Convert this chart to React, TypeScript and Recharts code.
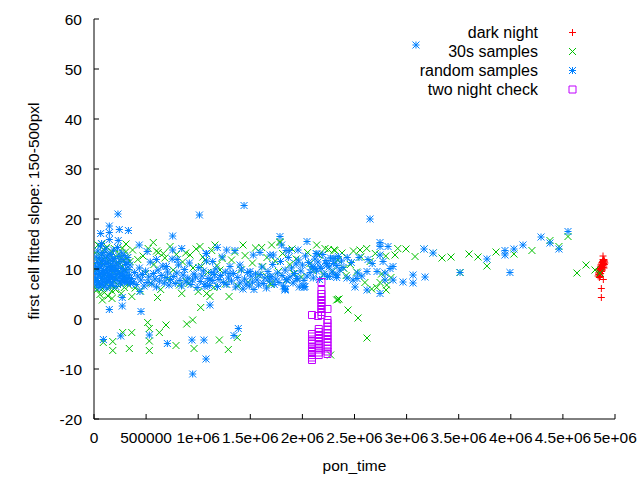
import React from 'react';
import { ScatterChart, Scatter, XAxis, YAxis, Legend } from 'recharts';

const FONT = '"Liberation Sans", Arial, sans-serif';
const TICK_FS = 15.5;
const TITLE_FS = 15.5;
const LEGEND_FS = 16;

const xTicks = [0, 500000, 1000000, 1500000, 2000000, 2500000, 3000000, 3500000, 4000000, 4500000, 5000000];
const xTickLabels = ['0', '500000', '1e+06', '1.5e+06', '2e+06', '2.5e+06', '3e+06', '3.5e+06', '4e+06', '4.5e+06', '5e+06'];
const yTicks = [-20, -10, 0, 10, 20, 30, 40, 50, 60];
const yTickLabels = ['-20', '-10', '0', '10', '20', '30', '40', '50', '60'];

const seriesNames = ['dark night', '30s samples', 'random samples', 'two night check'];
const seriesColors = ['#ff0000', '#00c000', '#0080ff', '#c000ff'];
const seriesMarkers = ['plus', 'cross', 'star', 'square'];

// points: [pon_time in thousands, slope]
const darkNight: [number, number][] = [
  [4838, 8.6], [4842, 9.2], [4845, 8.9], [4848, 9.8], [4850, 9.4], [4852, 10.1], [4855, 8.8], [4857, 9.6],
  [4860, 10.4], [4862, 9.1], [4864, 10.8], [4866, 9.9], [4868, 10.5], [4870, 11.0], [4872, 9.5], [4874, 10.2],
  [4876, 11.3], [4878, 10.7], [4880, 9.8], [4882, 11.5], [4884, 10.9], [4886, 10.3], [4888, 11.7], [4890, 11.1],
  [4892, 10.6], [4894, 11.9], [4896, 11.4], [4898, 10.9], [4900, 11.6], [4903, 11.2], [4846, 10.0], [4858, 8.5],
  [4871, 10.0], [4885, 11.9], [4895, 10.2], [4850, 8.3], [4885, 12.6], [4888, 7.9], [4869, 6.1], [4869, 4.3],
];

const samples30s: [number, number][] = [
  [80, 3.8], [173, 4.1], [363, 4.5], [610, 4.3], [842, 5.1], [1024, 2.3], [1113, 4.5], [1296, 4.5],
  [515, -0.7], [531, -1.9], [531, -4.4], [531, -6.3], [691, -1.2], [627, -2.7], [890, -1.0], [947, -0.2],
  [275, -2.7], [362, -2.7], [180, -4.5], [89, -4.7], [180, -6.3], [339, -5.9], [787, -5.3], [960, -5.9],
  [1203, -4.2], [1289, -6.1], [1375, -3.7], [2271, -7.2], [2339, 3.9], [2351, 4.0], [2438, 1.8], [2534, 0.2],
  [2620, -3.8],
  [2915, 14.1], [2994, 14.0], [3081, 12.5], [3167, 14.0], [3254, 13.2], [3340, 12.2], [3426, 12.4], [3513, 9.3],
  [3599, 13.0], [3685, 12.4], [3771, 10.6], [3858, 13.4], [4030, 13.0], [4203, 13.7], [4376, 15.7], [4462, 14.5],
  [4549, 16.5], [4635, 9.2], [4722, 10.8], [4808, 9.8], [4856, 9.2], [2889, 12.8],
  [1161, 14.8], [1430, 14.8], [1609, 14.3], [1705, 14.8], [1785, 15.5], [2137, 14.8], [2217, 14.1], [2303, 13.8],
  [1030, 10.5], [1209, 9.8], [1081, 5.1], [2329, 3.8], [1657, 8.5], [1913, 9.1], [2073, 11.1], [1785, 15.3],
  [2313, 13.7], [2553, 13.8], [2617, 14.1], [1689, 7.1], [2713, 6.3], [2809, 6.8], [2803, 5.8], [2665, 6.0],
  [2745, 7.3], [2399, 10.1], [569, 15.3], [307, 15.0], [665, 13.1], [617, 13.3], [921, 12.8], [1017, 14.5],
  [890, 7.5], [1065, 11.8],
  [5, 6.4], [14, 13.2], [20, 9.9], [27, 5.8], [33, 11.6], [39, 14.8], [45, 7.3], [51, 10.7], [57, 4.9], [63, 12.7],
  [69, 8.5], [75, 15.0], [81, 6.1], [87, 11.0], [93, 13.9], [99, 5.3], [105, 9.0], [111, 12.3], [117, 7.0], [123, 14.4],
  [129, 10.1], [135, 4.6], [141, 8.1], [147, 12.9], [153, 6.5], [159, 10.9], [165, 13.5], [171, 5.6], [177, 9.4],
  [183, 11.9], [189, 7.6], [195, 14.1], [201, 10.3], [207, 5.9], [213, 12.5], [219, 8.8], [225, 6.9], [231, 11.3],
  [237, 13.0], [243, 9.6], [249, 7.4], [255, 12.0], [261, 5.1], [267, 10.6], [273, 14.2], [279, 8.2], [285, 11.7],
  [291, 6.3], [297, 9.8], [303, 13.4], [309, 7.9], [318, 12.2], [327, 10.4], [336, 6.7], [345, 11.5],
  [370, 13.8], [395, 6.2], [420, 11.9], [445, 5.6], [470, 12.6], [495, 9.1], [520, 14.1], [545, 7.2], [575, 10.9],
  [600, 13.6], [640, 5.9], [680, 12.2], [705, 8.0], [730, 14.5], [760, 9.8], [790, 12.9], [820, 6.8], [850, 11.4],
  [880, 13.2], [910, 7.1], [950, 10.2], [980, 14.0], [1000, 5.5], [1045, 12.4], [1090, 9.3], [1130, 13.7],
  [1150, 6.3], [1180, 10.7], [1230, 12.1], [1260, 7.0], [1320, 11.8], [1350, 13.4], [1380, 6.6], [1410, 9.9],
  [1450, 12.7], [1480, 7.4], [1520, 11.2], [1550, 14.2], [1580, 8.8], [1620, 10.5], [1660, 12.3], [1700, 6.9],
  [1740, 11.6], [1770, 9.5], [1810, 13.1], [1850, 7.8], [1880, 10.9], [1900, 14.0], [1940, 12.0], [1990, 8.4],
  [2050, 13.3], [2100, 9.7], [2160, 12.8], [2200, 8.9], [2250, 13.9], [2290, 9.6], [2340, 11.8], [2380, 13.2],
  [2420, 8.7], [2460, 10.9], [2490, 13.6], [2520, 9.4], [2560, 12.4], [2600, 7.3], [2650, 11.5], [2700, 13.1],
  [2760, 9.0], [2800, 12.6], [2850, 8.3],
];

const randomSamples: [number, number][] = [
  [8, 7.4], [12, 9.1], [15, 10.6], [18, 8.2], [22, 12.4], [25, 6.8], [28, 9.8], [31, 11.3], [34, 7.7], [37, 13.6],
  [40, 8.9], [43, 10.1], [46, 6.3], [49, 12.0], [52, 9.4], [55, 7.1], [58, 11.0], [61, 14.6], [64, 8.4], [67, 10.4],
  [70, 6.9], [73, 12.8], [76, 9.0], [79, 7.6], [82, 11.7], [85, 8.1], [88, 13.3], [91, 9.7], [94, 6.6], [97, 10.9],
  [100, 8.6], [103, 12.2], [106, 7.3], [109, 9.3], [112, 11.4], [115, 14.0], [118, 8.0], [121, 10.0], [124, 6.2],
  [127, 12.6], [130, 9.2], [133, 7.8], [136, 11.1], [139, 8.7], [142, 10.5], [145, 13.0], [148, 7.5], [151, 9.6],
  [154, 11.8], [157, 8.3], [160, 6.7], [163, 10.3], [166, 12.9], [169, 8.8], [172, 9.9], [175, 7.2], [178, 11.6],
  [181, 8.5], [184, 10.7], [187, 13.8], [190, 7.9], [194, 9.5], [198, 12.1], [202, 8.2], [206, 10.2], [210, 6.5],
  [214, 11.2], [218, 8.9], [222, 9.7], [226, 14.3], [230, 7.7], [234, 10.6], [238, 12.5], [242, 8.4], [246, 9.1],
  [250, 11.5], [254, 7.0], [258, 8.6], [262, 10.1], [266, 13.2], [270, 7.6], [274, 9.0], [278, 11.9], [282, 8.1],
  [286, 9.8], [290, 12.7], [294, 7.3], [298, 8.7], [302, 10.9], [306, 7.9], [310, 9.4], [315, 11.3], [320, 8.3],
  [325, 12.3], [330, 7.5], [335, 9.9], [340, 8.8], [345, 10.8], [350, 7.1],
  [360, 8.1], [375, 7.4], [390, 9.3], [405, 6.9], [420, 8.6], [435, 10.2], [450, 7.8], [465, 8.9], [480, 6.6],
  [495, 9.6], [510, 7.3], [525, 8.4], [540, 11.4], [555, 7.0], [570, 9.1], [585, 8.0], [600, 6.4], [615, 9.8],
  [630, 7.6], [645, 8.7], [660, 10.6], [675, 7.2], [690, 8.3], [705, 9.4], [720, 6.8], [735, 7.9], [750, 12.0],
  [765, 8.5], [780, 7.1], [795, 9.2], [810, 10.8], [825, 7.7], [840, 6.6], [855, 8.8], [870, 9.9], [885, 7.4],
  [900, 8.2], [915, 11.2], [930, 6.9], [945, 7.8], [960, 9.0], [975, 8.4], [990, 6.3], [1005, 10.3], [1020, 7.5],
  [1035, 8.6], [1050, 9.6], [1065, 7.0], [1080, 11.6], [1095, 8.1], [1110, 6.7], [1125, 9.3], [1140, 7.7],
  [1155, 8.9], [1170, 10.0], [1185, 6.5], [1200, 7.9], [1215, 8.7], [1230, 12.4], [1245, 7.3], [1260, 9.4],
  [1275, 6.9], [1290, 8.2], [1305, 10.5],
  [1320, 7.6], [1340, 9.1], [1360, 6.4], [1380, 8.3], [1400, 7.2], [1415, 9.8], [1430, 6.0], [1445, 8.0],
  [1460, 7.0], [1475, 9.3], [1490, 6.6], [1505, 8.6], [1520, 7.4], [1535, 5.9], [1550, 9.0], [1565, 7.8],
  [1580, 6.8], [1595, 8.9], [1610, 10.4], [1625, 7.1], [1640, 8.2], [1655, 6.2], [1670, 9.5], [1685, 7.6],
  [1700, 8.4], [1715, 10.9], [1730, 6.9], [1745, 8.0], [1760, 9.2], [1775, 7.3], [1790, 11.5], [1805, 8.7],
  [1820, 6.6], [1835, 9.8], [1850, 7.9], [1865, 12.3], [1880, 8.4], [1895, 10.2], [1910, 7.2], [1925, 9.1],
  [1940, 11.0], [1955, 8.0], [1970, 6.4], [1985, 9.6], [2000, 10.8], [2015, 7.7], [2030, 12.6], [2045, 8.6],
  [2060, 11.3], [2075, 9.3], [2090, 10.5], [2105, 8.2], [2120, 12.0], [2135, 9.6], [2150, 11.4], [2165, 7.9],
  [2180, 10.1], [2195, 12.9], [2210, 9.0], [2225, 11.7], [2240, 8.5], [2255, 10.4], [2270, 12.2], [2285, 9.4],
  [2300, 11.1], [2315, 8.8], [2330, 10.7], [2345, 12.5], [2360, 9.8], [2375, 11.6], [2390, 10.3], [2430, 12.3],
  [2470, 11.3], [2530, 9.2], [2570, 8.6], [2670, 11.1],
  [2745, 15.3], [2745, 14.5], [2822, 14.5], [2745, 12.8], [2543, 12.3], [2630, 11.9], [2774, 11.5], [2870, 10.5],
  [2841, 10.1], [2620, 9.5], [2716, 9.5], [2793, 9.2], [2524, 8.1], [2620, 5.8], [2745, 5.1], [2505, 6.4],
  [2793, 7.8], [2870, 7.8], [2332, 8.8], [2428, 8.2], [2486, 7.8], [2294, 12.1], [2102, 10.4], [2169, 10.4],
  [2236, 10.8], [1785, 16.5], [2044, 15.5], [1958, 13.8], [2140, 13.0], [1689, 12.8], [1843, 13.7], [1833, 6.1],
  [2006, 6.6], [1689, 8.5],
  [3062, 8.8], [3062, 7.2], [3177, 8.4], [2966, 7.4], [3090, 54.8], [3167, 14.0], [3254, 13.2], [3513, 9.3],
  [3771, 12.0], [3944, 13.7], [3944, 12.8], [4030, 14.0], [3992, 9.3], [4117, 14.8], [4290, 16.4], [4376, 15.2],
  [4462, 14.0], [4549, 17.5], [2649, 20.0],
  [1801, 14.8], [1183, 14.3], [1273, 13.8], [1353, 13.7], [2131, 13.1], [1075, 13.1], [1529, 12.8], [1593, 13.3],
  [1721, 12.8], [1874, 13.7], [2313, 12.1], [2233, 11.1], [1961, 11.8], [2121, 10.1], [1497, 9.5], [1401, 10.8],
  [1305, 9.1], [1139, 11.5], [1113, 7.8], [1065, 6.5], [1833, 5.8], [1843, 7.8], [1945, 8.1], [2025, 6.5],
  [2258, 8.5], [2329, 8.3], [1113, 2.8],
  [230, 21.0], [1012, 20.8], [1440, 22.7], [64, 17.1], [147, 18.6], [147, 17.3], [147, 15.9], [243, 17.9],
  [330, 17.7], [755, 16.6], [73, 15.1], [233, 15.7], [434, 14.8], [755, 13.8], [842, 14.1], [799, 11.9],
  [599, 11.9], [510, 13.5], [695, 10.5], [1080, 13.1], [441, 5.5], [271, 4.3], [147, 1.9], [271, 2.6], [451, 1.5],
  [90, -4.1], [257, -3.4], [531, -3.2], [704, -4.9], [940, -4.2], [1055, -4.2], [1075, -8.0], [947, -11.0],
  [1385, -1.9], [1343, -3.3], [1836, 5.9], [2015, 6.3],
];

const twoNightCheck: [number, number][] = [
  [2092, -3.0], [2092, -3.5], [2092, -4.1], [2092, -4.5], [2092, -5.0], [2092, -5.6], [2092, -6.1], [2092, -6.6],
  [2092, -7.2], [2092, -7.7], [2092, -8.2], [2092, 0.8],
  [2157, -2.0], [2157, -2.6], [2157, -3.2], [2157, -3.8], [2157, -4.4], [2157, -5.0], [2157, -5.5], [2157, -6.1],
  [2157, -6.7], [2157, -7.2], [2150, 0.6],
  [2183, 0.8], [2183, 1.4], [2183, 2.0], [2183, 2.6], [2183, 3.2], [2183, 3.8], [2183, 4.4], [2183, 5.0],
  [2183, 5.8], [2183, 7.4],
  [2241, -0.2], [2241, -0.8], [2241, -1.5], [2241, -2.1], [2241, -2.8], [2241, -3.4], [2241, -4.0], [2241, -4.6],
  [2241, -5.3], [2241, -5.9], [2241, -6.5], [2241, -7.0], [2241, 2.0],
];

const seriesPoints = [darkNight, samples30s, randomSamples, twoNightCheck];
const toRows = (pts: [number, number][]) => pts.map(([k, y]) => ({ x: k * 1000, y }));

const R = 3.5;
function markerPath(kind: string, cx: number, cy: number): string {
  const plus = `M${cx - R},${cy}H${cx + R}M${cx},${cy - R}V${cy + R}`;
  const cross = `M${cx - R},${cy - R}L${cx + R},${cy + R}M${cx - R},${cy + R}L${cx + R},${cy - R}`;
  if (kind === 'plus') return plus;
  if (kind === 'cross') return cross;
  if (kind === 'star') return plus + cross;
  return `M${cx - R},${cy - R}H${cx + R}V${cy + R}H${cx - R}Z`;
}

const makeShape = (i: number) => (props: any) => {
  const { cx, cy } = props;
  if (cx == null || cy == null) return <g />;
  return <path d={markerPath(seriesMarkers[i], cx, cy)} stroke={seriesColors[i]} strokeWidth={1} fill="none" />;
};

const TICK = 5;
const X_TM = 18;
const Y_TM = 12;

const BottomTick = (props: any) => {
  const { x, y, payload } = props;
  const idx = xTicks.indexOf(payload.value);
  const axisY = y - X_TM;
  return (
    <g>
      <line x1={x} x2={x} y1={axisY} y2={axisY - TICK} stroke="#000" />
      <text x={x} y={y} textAnchor="middle" dominantBaseline="central" fontFamily={FONT} fontSize={TICK_FS} fill="#000">
        {xTickLabels[idx]}
      </text>
    </g>
  );
};

const TopTick = (props: any) => {
  const { x, y } = props;
  return <line x1={x} x2={x} y1={y} y2={y + TICK} stroke="#000" />;
};

const LeftTick = (props: any) => {
  const { x, y, payload } = props;
  const idx = yTicks.indexOf(payload.value);
  const axisX = x + Y_TM;
  return (
    <g>
      <line x1={axisX} x2={axisX + TICK} y1={y} y2={y} stroke="#000" />
      <text x={x} y={y} textAnchor="end" dominantBaseline="central" fontFamily={FONT} fontSize={TICK_FS} fill="#000">
        {yTickLabels[idx]}
      </text>
    </g>
  );
};

const RightTick = (props: any) => {
  const { x, y } = props;
  return <line x1={x} x2={x - TICK} y1={y} y2={y} stroke="#000" />;
};

const XTitle = (props: any) => {
  const vb = props.viewBox || { x: 94, y: 419, width: 521, height: 61 };
  return (
    <text x={vb.x + vb.width / 2} y={vb.y + 46} textAnchor="middle" dominantBaseline="central" fontFamily={FONT} fontSize={TITLE_FS} fill="#000">
      pon_time
    </text>
  );
};

const YTitle = (props: any) => {
  const vb = props.viewBox || { x: 0, y: 19, width: 94, height: 400 };
  const cx = vb.x + 33;
  const cy = vb.y + vb.height / 2 - 8;
  return (
    <text x={cx} y={cy} transform={`rotate(-90 ${cx} ${cy})`} textAnchor="middle" dominantBaseline="central" fontFamily={FONT} fontSize={TITLE_FS} fill="#000">
      first cell fitted slope: 150-500pxl
    </text>
  );
};

const LegendContent = () => (
  <div style={{ position: 'relative', width: 220, height: 80, fontFamily: FONT, fontSize: LEGEND_FS, color: '#000' }}>
    {seriesNames.map((name, i) => (
      <React.Fragment key={name}>
        <div style={{ position: 'absolute', top: i * 19, left: 0, width: 158, height: 19, lineHeight: '19px', textAlign: 'right', whiteSpace: 'nowrap' }}>
          {name}
        </div>
        <svg style={{ position: 'absolute', left: 188, top: i * 19 + 5, overflow: 'visible' }} width={9} height={9}>
          <path d={markerPath(seriesMarkers[i], 4.5, 4.5)} stroke={seriesColors[i]} strokeWidth={1} fill="none" />
        </svg>
      </React.Fragment>
    ))}
  </div>
);

export default function App() {
  return (
    <div style={{ position: 'absolute', left: 0, top: 0, width: 640, height: 480, background: '#fff' }}>
      <ScatterChart width={640} height={480} margin={{ top: 19, right: 25, bottom: 0, left: 0 }}>
        <XAxis
          xAxisId="b"
          dataKey="x"
          type="number"
          domain={[0, 5000000]}
          ticks={xTicks}
          interval={0}
          allowDataOverflow
          height={61}
          tickSize={0}
          tickMargin={X_TM}
          tickLine={false}
          axisLine={{ stroke: '#000' }}
          tick={<BottomTick />}
          label={{ content: (p: any) => <XTitle {...p} /> }}
        />
        <XAxis
          xAxisId="t"
          orientation="top"
          dataKey="x"
          type="number"
          domain={[0, 5000000]}
          ticks={xTicks}
          interval={0}
          allowDataOverflow
          height={0}
          tickSize={0}
          tickMargin={0}
          tickLine={false}
          axisLine={{ stroke: '#000' }}
          tick={<TopTick />}
        />
        <YAxis
          yAxisId="l"
          dataKey="y"
          type="number"
          domain={[-20, 60]}
          ticks={yTicks}
          interval={0}
          allowDataOverflow
          width={94}
          tickSize={0}
          tickMargin={Y_TM}
          tickLine={false}
          axisLine={{ stroke: '#000' }}
          tick={<LeftTick />}
          label={{ content: (p: any) => <YTitle {...p} /> }}
        />
        <YAxis
          yAxisId="r"
          orientation="right"
          dataKey="y"
          type="number"
          domain={[-20, 60]}
          ticks={yTicks}
          interval={0}
          allowDataOverflow
          width={0}
          tickSize={0}
          tickMargin={0}
          tickLine={false}
          axisLine={{ stroke: '#000' }}
          tick={<RightTick />}
        />
        <Legend
          layout="horizontal"
          verticalAlign="middle"
          align="center"
          content={() => <LegendContent />}
          wrapperStyle={{ top: 23, left: 380, width: 220, height: 80 }}
        />
        {seriesPoints.map((pts, i) => (
          <Scatter
            key={seriesNames[i]}
            name={seriesNames[i]}
            xAxisId="b"
            yAxisId="l"
            data={toRows(pts)}
            dataKey="y"
            fill={seriesColors[i]}
            shape={makeShape(i)}
            isAnimationActive={false}
          />
        ))}
      </ScatterChart>
    </div>
  );
}
